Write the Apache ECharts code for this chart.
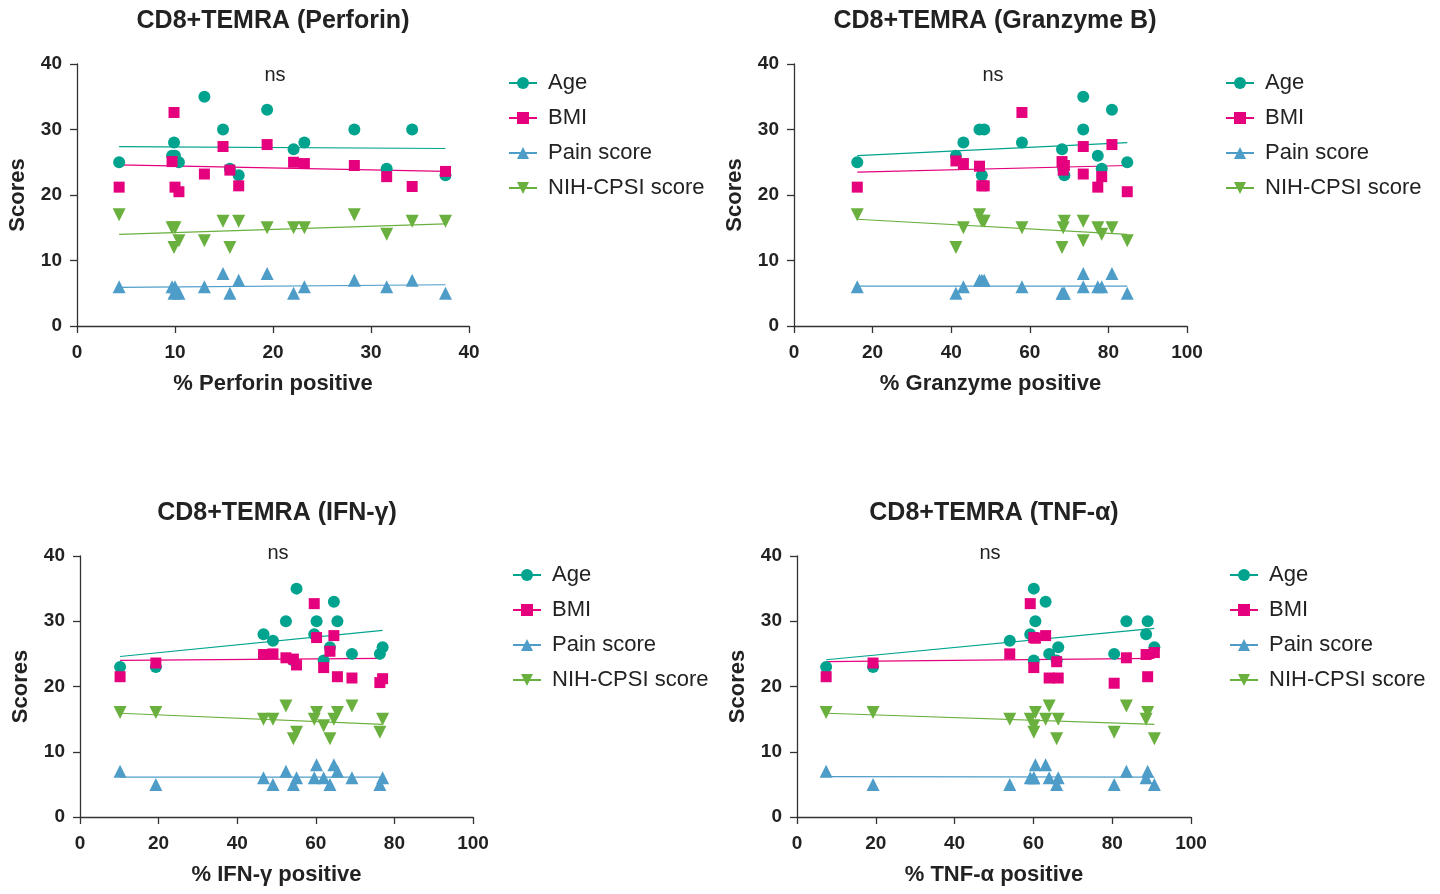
<!DOCTYPE html>
<html>
<head>
<meta charset="utf-8">
<title>CD8+TEMRA scores</title>
<script src="https://cdn.jsdelivr.net/npm/echarts@6/dist/echarts.min.js"></script>
<style>
  html, body { margin: 0; padding: 0; background: #fff; }
  #chart { width: 1440px; height: 894px; }
</style>
</head>
<body>
<div id="chart"></div>
<script>
// ---- data ----
const seriesNames = ['Age', 'BMI', 'Pain score', 'NIH-CPSI score'];
const panelTitles = ['CD8+TEMRA (Perforin)', 'CD8+TEMRA (Granzyme B)', 'CD8+TEMRA (IFN-γ)', 'CD8+TEMRA (TNF-α)'];
const xAxisNames = ['% Perforin positive', '% Granzyme positive', '% IFN-γ positive', '% TNF-α positive'];
const xMaxes = [40, 100, 100, 100];
const xSteps = [10, 20, 20, 20];
const yMax = 40;
const yStep = 10;
const statLabel = 'ns';

// Perforin
const perforinX = [4.3, 9.7, 9.9, 10.0, 10.4, 13.0, 14.9, 15.6, 16.5, 19.4, 22.1, 23.2, 28.3, 31.6, 34.2, 37.6];
const perforinAge = [25, 26, 28, 26, 25, 35, 30, 24, 23, 33, 27, 28, 30, 24, 30, 23];
const perforinBMI = [21.2, 25.1, 32.6, 21.2, 20.5, 23.2, 27.4, 23.8, 21.4, 27.7, 25.0, 24.8, 24.5, 22.8, 21.3, 23.6];
const perforinPain = [6, 6, 5, 6, 5, 6, 8, 5, 7, 8, 5, 6, 7, 6, 7, 5];
const perforinNIH = [17, 15, 12, 15, 13, 13, 16, 12, 16, 15, 15, 15, 17, 14, 16, 16];
const perforinFitX = [4.3, 37.6];
const perforinFit = [[27.4, 27.1], [24.6, 23.6], [5.9, 6.3], [14.0, 15.6]];

// Granzyme B
const granzymeX = [16.1, 41.2, 43.1, 47.2, 47.8, 48.4, 58.0, 68.2, 68.5, 68.8, 73.6, 73.6, 77.3, 78.3, 80.9, 84.8];
const granzymeAge = [25, 26, 28, 30, 23, 30, 28, 27, 24, 23, 35, 30, 26, 24, 33, 25];
const granzymeBMI = [21.2, 25.2, 24.8, 24.4, 21.4, 21.4, 32.6, 25.1, 23.8, 24.5, 27.4, 23.2, 21.2, 22.8, 27.7, 20.5];
const granzymePain = [6, 5, 6, 7, 7, 7, 6, 5, 5, 5, 8, 6, 6, 6, 8, 5];
const granzymeNIH = [17, 12, 15, 17, 16, 16, 15, 12, 15, 16, 16, 13, 15, 14, 15, 13];
const granzymeFitX = [16.1, 84.8];
const granzymeFit = [[26.0, 28.0], [23.5, 24.5], [6.1, 6.1], [16.3, 14.0]];

// IFN-γ
const ifngX = [10.2, 19.3, 46.7, 49.1, 52.4, 54.3, 55.1, 59.6, 60.2, 62.0, 63.6, 64.6, 65.5, 69.2, 76.3, 77.0];
const ifngAge = [23, 23, 28, 27, 30, 24, 35, 28, 30, 24, 26, 33, 30, 25, 25, 26];
const ifngBMI = [21.5, 23.6, 24.9, 25.0, 24.4, 24.2, 23.3, 32.7, 27.5, 22.9, 25.4, 27.8, 21.5, 21.3, 20.6, 21.2];
const ifngPain = [7, 5, 6, 5, 7, 5, 6, 6, 8, 6, 5, 8, 7, 6, 5, 6];
const ifngNIH = [16, 16, 15, 15, 17, 12, 13, 15, 16, 14, 12, 15, 16, 17, 13, 15];
const ifngFitX = [10.2, 77.0];
const ifngFit = [[24.6, 28.6], [24.0, 24.3], [6.1, 6.1], [15.9, 14.2]];

// TNF-α
const tnfaX = [7.4, 19.3, 54.0, 59.2, 60.1, 60.1, 60.5, 63.1, 64.0, 65.9, 66.3, 80.5, 83.6, 88.6, 89.0, 90.7];
const tnfaAge = [23, 23, 27, 28, 35, 24, 30, 33, 25, 24, 26, 25, 30, 28, 30, 26];
const tnfaBMI = [21.5, 23.6, 25.0, 32.7, 27.5, 22.9, 27.4, 27.8, 21.3, 23.8, 21.3, 20.5, 24.4, 24.9, 21.5, 25.2];
const tnfaPain = [7, 5, 5, 6, 6, 6, 8, 8, 6, 5, 6, 5, 7, 6, 7, 5];
const tnfaNIH = [16, 16, 15, 15, 14, 13, 16, 15, 17, 12, 15, 13, 17, 15, 16, 12];
const tnfaFitX = [7.4, 90.7];
const tnfaFit = [[24.1, 28.9], [23.8, 24.3], [6.2, 6.1], [15.9, 14.2]];

const panelX = [perforinX, granzymeX, ifngX, tnfaX];
const panelY = [
  [perforinAge, perforinBMI, perforinPain, perforinNIH],
  [granzymeAge, granzymeBMI, granzymePain, granzymeNIH],
  [ifngAge, ifngBMI, ifngPain, ifngNIH],
  [tnfaAge, tnfaBMI, tnfaPain, tnfaNIH]
];
const panelFitX = [perforinFitX, granzymeFitX, ifngFitX, tnfaFitX];
const panelFit = [perforinFit, granzymeFit, ifngFit, tnfaFit];

// ---- look ----
const colors = ['#00A38D', '#E5007D', '#4E9DC9', '#6AB03E'];
const symbols = ['circle', 'rect', 'triangle', 'path://M0,0L10,0L5,10Z'];
const symbolSizes = [12, 11, 13, 13];
const textColor = '#222';
const axisColor = '#333';
const fontFamily = "'Liberation Sans', Arial, sans-serif";
const titleFont = "bold 25px 'Liberation Sans', Arial, sans-serif";

// pixel layout of the four plot areas
const grids = [
  { left: 77, top: 64, width: 392, height: 262 },
  { left: 794, top: 64, width: 393, height: 262 },
  { left: 80, top: 556, width: 393, height: 261 },
  { left: 797, top: 556, width: 394, height: 261 }
];
const titlePos = [[273, 21], [995, 21], [277, 513], [994, 513]];
const statPos = [[275, 75], [993, 75], [278, 553], [990, 553]];
const legendPos = [[503, 67], [1220, 67], [507, 559], [1224, 559]];

const chart = echarts.init(document.getElementById('chart'));

const option = {
  animation: false,
  backgroundColor: '#fff',
  grid: grids.map(g => Object.assign({ outerBoundsMode: 'none', containLabel: false }, g)),
  xAxis: grids.map((g, p) => ({
    type: 'value',
    gridIndex: p,
    min: 0,
    max: xMaxes[p],
    interval: xSteps[p],
    name: xAxisNames[p],
    nameLocation: 'middle',
    nameGap: 47,
    nameTextStyle: { fontFamily, fontWeight: 'bold', fontSize: 22, color: textColor },
    axisLine: { show: true, onZero: false, lineStyle: { color: axisColor, width: 1.3 } },
    axisTick: { show: true, length: 7, lineStyle: { color: axisColor, width: 1.3 } },
    axisLabel: { fontFamily, fontWeight: 'bold', fontSize: 19, color: textColor, margin: 17 },
    splitLine: { show: false }
  })),
  yAxis: grids.map((g, p) => ({
    type: 'value',
    gridIndex: p,
    min: 0,
    max: yMax,
    interval: yStep,
    name: 'Scores',
    nameLocation: 'middle',
    nameGap: 48,
    nameTextStyle: { fontFamily, fontWeight: 'bold', fontSize: 22, color: textColor },
    axisLine: { show: true, onZero: false, lineStyle: { color: axisColor, width: 1.3 } },
    axisTick: { show: true, length: 7, lineStyle: { color: axisColor, width: 1.3 } },
    axisLabel: { fontFamily, fontWeight: 'bold', fontSize: 19, color: textColor, margin: 15 },
    splitLine: { show: false }
  })),
  legend: legendPos.map(pos => ({
    data: seriesNames,
    orient: 'vertical',
    left: pos[0],
    top: pos[1],
    itemWidth: 28,
    itemHeight: 15,
    itemGap: 13,
    selectedMode: false,
    textStyle: { fontFamily, fontSize: 22, color: textColor, padding: [0, 0, 0, 6] }
  })),
  graphic: [],
  series: []
};

// titles and "ns" labels
titlePos.forEach((pos, p) => {
  option.graphic.push({
    type: 'text', x: pos[0], y: pos[1], silent: true,
    style: { text: panelTitles[p], font: titleFont, fill: textColor, align: 'center', verticalAlign: 'middle' }
  });
  option.graphic.push({
    type: 'text', x: statPos[p][0], y: statPos[p][1], silent: true,
    style: { text: statLabel, font: "20px 'Liberation Sans', Arial, sans-serif", fill: textColor, align: 'center', verticalAlign: 'middle' }
  });
});

// fit lines first (they give the legend its line + marker icon), then the points
panelX.forEach((xs, p) => {
  seriesNames.forEach((name, s) => {
    option.series.push({
      name,
      type: 'line',
      xAxisIndex: p,
      yAxisIndex: p,
      data: panelFitX[p].map((x, i) => [x, panelFit[p][s][i]]),
      symbol: symbols[s],
      symbolSize: symbolSizes[s],
      showSymbol: false,
      silent: true,
      lineStyle: { color: colors[s], width: 1.2 },
      itemStyle: { color: colors[s] },
      z: 2
    });
  });
  seriesNames.forEach((name, s) => {
    option.series.push({
      name,
      type: 'scatter',
      xAxisIndex: p,
      yAxisIndex: p,
      data: xs.map((x, i) => [x, panelY[p][s][i]]),
      symbol: symbols[s],
      symbolSize: symbolSizes[s],
      itemStyle: { color: colors[s], opacity: 1 },
      z: 3
    });
  });
});

chart.setOption(option);
</script>
</body>
</html>
